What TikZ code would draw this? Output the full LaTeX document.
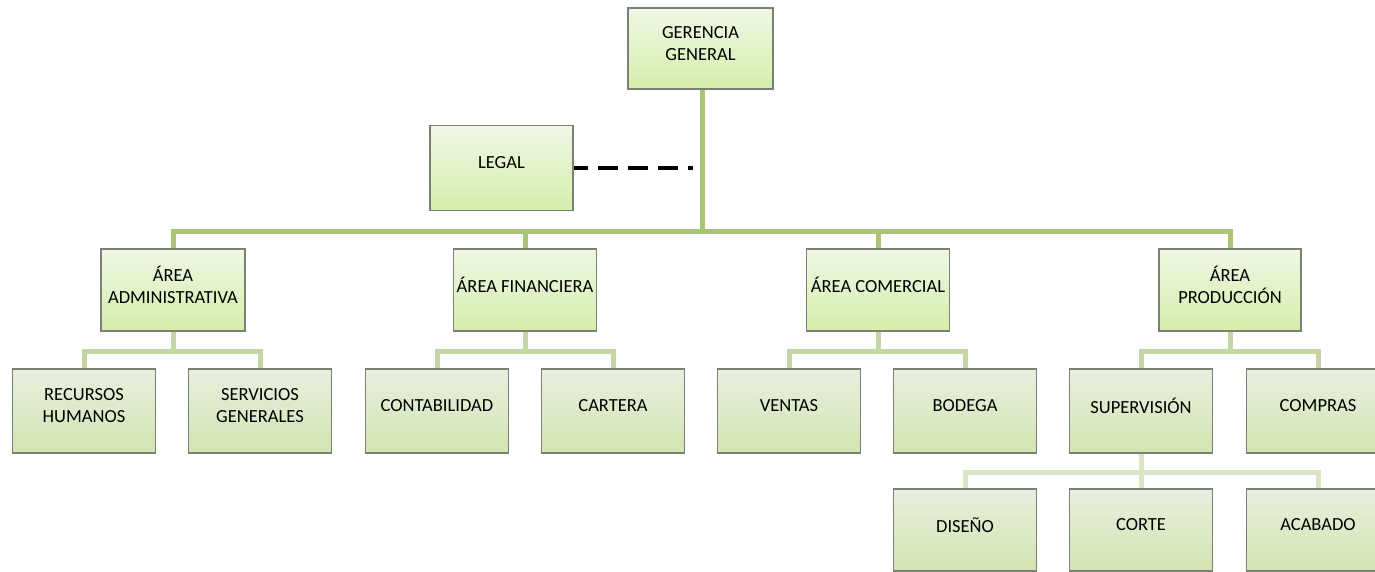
\documentclass[tikz,border=0pt]{standalone}
\usepackage{fontspec}
\setmainfont{Carlito}
\definecolor{busA}{RGB}{168,196,120}
\definecolor{busB}{RGB}{196,214,164}
\definecolor{busC}{RGB}{218,228,198}
\definecolor{topA}{RGB}{240,247,230}
\definecolor{botA}{RGB}{212,238,170}
\definecolor{topB}{RGB}{232,239,222}
\definecolor{botB}{RGB}{210,228,178}
\definecolor{edge}{RGB}{122,128,116}
\tikzset{
  box/.style={rectangle, draw=edge, line width=1.3pt, minimum width=143pt, minimum height=82pt,
    inner sep=0pt, shading=axis, top color=topA, bottom color=botA},
  boxB/.style={box, top color=topB, bottom color=botB},
  txt/.style={font=\fontsize{18.5}{22}\selectfont, align=center, text=black, yshift=5pt, inner sep=0pt},
  lineA/.style={draw=busA, line width=5pt},
  lineB/.style={draw=busB, line width=5pt},
  lineC/.style={draw=busC, line width=5pt},
  dashline/.style={draw=black, line width=4.5pt, dash pattern=on 20pt off 10pt, dash phase=6pt}
}
\begin{document}
\begin{tikzpicture}[x=1pt,y=-1pt]
\useasboundingbox (0,0) rectangle (1375,572);
\coordinate (b1) at (702,231);
\coordinate (b2) at (0,351);
\coordinate (b3) at (0,472);
\coordinate (dashend) at (693,168);
\node[box, minimum width=145pt, minimum height=81pt, label={[txt]center:{GERENCIA\\GENERAL}}] (ger) at (700.5,48.5) {};
\node[box, minimum height=85pt, label={[txt]center:LEGAL}] (leg) at (501.5,168) {};
\node[box, minimum width=144pt, label={[txt]center:{ÁREA\\ADMINISTRATIVA}}] (adm) at (173,290) {};
\node[box, label={[txt]center:ÁREA FINANCIERA}] (fin) at (525,290) {};
\node[box, label={[txt]center:ÁREA COMERCIAL}] (com) at (878,290) {};
\node[box, minimum width=142pt, label={[txt]center:{ÁREA\\PRODUCCIÓN}}] (pro) at (1230,290) {};
\node[boxB, minimum height=84pt, label={[txt]center:{RECURSOS\\HUMANOS}}] (rh) at (84,411) {};
\node[boxB, minimum height=84pt, label={[txt]center:{SERVICIOS\\GENERALES}}] (sg) at (260,411) {};
\node[boxB, minimum height=84pt, label={[txt]center:CONTABILIDAD}] (con) at (437,411) {};
\node[boxB, minimum height=84pt, label={[txt]center:CARTERA}] (car) at (613,411) {};
\node[boxB, minimum height=84pt, label={[txt]center:VENTAS}] (ven) at (789,411) {};
\node[boxB, minimum height=84pt, label={[txt]center:BODEGA}] (bod) at (965,411) {};
\node[boxB, minimum height=84pt, label={[txt]center:SUPERVISIÓN}] (sup) at (1141,411) {};
\node[boxB, minimum height=84pt, label={[txt]center:COMPRAS}] (comp) at (1318,411) {};
\node[boxB, label={[txt]center:DISEÑO}] (dis) at (965,530) {};
\node[boxB, label={[txt]center:CORTE}] (cor) at (1141,530) {};
\node[boxB, label={[txt]center:ACABADO}] (aca) at (1318,530) {};
% level 1
\foreach \n in {adm,fin,com,pro} {
  \draw[lineA] (ger.south -| b1) -- (b1) -| (\n.north);
}
% level 2
\draw[lineB] (adm.south) -- (adm.south |- b2) -| (rh.north);
\draw[lineB] (adm.south) -- (adm.south |- b2) -| (sg.north);
\draw[lineB] (fin.south) -- (fin.south |- b2) -| (con.north);
\draw[lineB] (fin.south) -- (fin.south |- b2) -| (car.north);
\draw[lineB] (com.south) -- (com.south |- b2) -| (ven.north);
\draw[lineB] (com.south) -- (com.south |- b2) -| (bod.north);
\draw[lineB] (pro.south) -- (pro.south |- b2) -| (sup.north);
\draw[lineB] (pro.south) -- (pro.south |- b2) -| (comp.north);
% level 3
\draw[lineC] (sup.south) -- (sup.south |- b3) -| (dis.north);
\draw[lineC] (sup.south) -- (sup.south |- b3) -| (cor.north);
\draw[lineC] (sup.south) -- (sup.south |- b3) -| (aca.north);
% legal
\draw[dashline] (leg.east) -- (leg.east -| dashend);
\end{tikzpicture}
\end{document}
